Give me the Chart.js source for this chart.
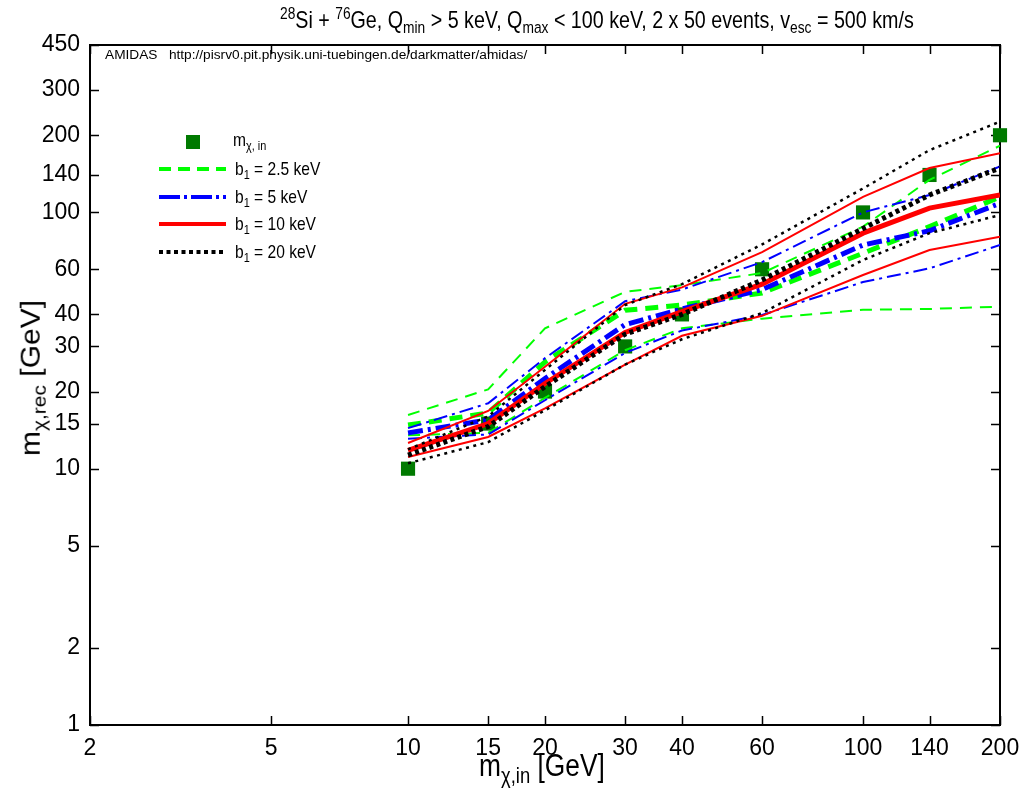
<!DOCTYPE html>
<html>
<head>
<meta charset="utf-8">
<script src="https://cdn.jsdelivr.net/npm/chart.js@4.4.1/dist/chart.umd.min.js"></script>
<style>
  body { margin: 0; background: #fff; }
  #wrap { position: relative; width: 1025px; height: 789px; background: #fff; }
  #c { position: absolute; left: 0; top: 0; }
  .t { position: absolute; white-space: nowrap; color: #000; font-family: "Liberation Sans", Arial, sans-serif; line-height: 1; }
  .t sub, .t sup { font-size: 70%; line-height: 0; }
  .t sub { vertical-align: -0.3em; }
  .t sup { vertical-align: 0.55em; }
  .narrow { transform-origin: 0 0; transform: scaleX(0.82); }
</style>
</head>
<body>
<div id="wrap">
  <canvas id="c" width="1025" height="789"></canvas>

  <div class="t narrow" id="title" style="left:280px; top:8px; font-size:24px;"><sup>28</sup>Si + <sup>76</sup>Ge, Q<sub>min</sub> &gt; 5 keV, Q<sub>max</sub> &lt; 100 keV, 2 x 50 events, v<sub>esc</sub> = 500 km/s</div>

  <div class="t" id="note" style="left:105px; top:48px; font-size:13.7px;">AMIDAS&nbsp;&nbsp;&nbsp;http://pisrv0.pit.physik.uni-tuebingen.de/darkmatter/amidas/</div>

  <div class="t" id="ylab" style="left:31px; top:378px; font-size:30px; transform: translate(-50%, -50%) rotate(-90deg) scaleY(0.9);">m<sub>χ,rec</sub> [GeV]</div>
  <div class="t" id="xlab" style="left:542px; top:750px; font-size:31px; transform: translateX(-50%) scaleX(0.85);">m<sub>χ,in</sub> [GeV]</div>

  <!-- legend -->
  <div style="position:absolute; left:186px; top:135px; width:14px; height:14px; background:#007a00;"></div>
  <svg style="position:absolute; left:155px; top:155px;" width="80" height="110">
    <line x1="4" y1="14" x2="71" y2="14" stroke="#00ff00" stroke-width="4" stroke-dasharray="12 7"/>
    <line x1="4" y1="42" x2="71" y2="42" stroke="#0000ff" stroke-width="4" stroke-dasharray="21 4 3 4"/>
    <line x1="4" y1="69" x2="71" y2="69" stroke="#ff0000" stroke-width="4"/>
    <line x1="4" y1="97" x2="71" y2="97" stroke="#000000" stroke-width="4" stroke-dasharray="4 3.5"/>
  </svg>
  <div class="t narrow" style="left:233px; top:130px; font-size:19px;">m<sub>χ, in</sub></div>
  <div class="t narrow" style="left:235px; top:159px; font-size:19px;">b<sub>1</sub> = 2.5 keV</div>
  <div class="t narrow" style="left:235px; top:187px; font-size:19px;">b<sub>1</sub> = 5 keV</div>
  <div class="t narrow" style="left:235px; top:214px; font-size:19px;">b<sub>1</sub> = 10 keV</div>
  <div class="t narrow" style="left:235px; top:242px; font-size:19px;">b<sub>1</sub> = 20 keV</div>
</div>

<script>
// input WIMP masses (GeV)
var massIn = [10, 15, 20, 30, 40, 60, 100, 140, 200];

// reconstructed masses: upper bound, median, lower bound for each b1
var b25Up  = [16.2, 20.4, 35.3, 49, 52, 58, 88, 134, 182];
var b25Mid = [14.8, 16.5, 26.1, 41.5, 43.5, 48.5, 69.3, 88, 115];
var b25Lo  = [13.5, 13.8, 18.9, 29, 35.3, 38.5, 41.7, 42, 42.9];

var b5Up  = [14.4, 18.0, 27.0, 45, 50, 64, 100, 117, 151];
var b5Mid = [13.8, 15.5, 22.5, 36.5, 42, 50, 74.6, 84.8, 108.5];
var b5Lo  = [13.1, 13.6, 18.5, 28.3, 34.6, 39.8, 53.5, 60.5, 74.6];

var b10Up  = [12.6, 16.8, 25, 44, 51, 70, 115, 149, 170];
var b10Mid = [11.8, 15.0, 21.5, 34, 41, 52.5, 83, 104, 117];
var b10Lo  = [11.1, 13.3, 17.2, 25.5, 33, 39.5, 57, 71.3, 80.4];

var b20Up  = [11.9, 16.0, 24.3, 43.5, 52.5, 75, 124, 175, 226];
var b20Mid = [11.3, 14.6, 20.9, 33.5, 40, 54.5, 86.5, 117, 149];
var b20Lo  = [10.5, 12.7, 16.9, 25.5, 32, 40.5, 65.2, 83, 97.7];

var xTicks = [2, 5, 10, 15, 20, 30, 40, 60, 100, 140, 200];
var yTicks = [1, 2, 5, 10, 15, 20, 30, 40, 60, 100, 140, 200, 300, 450];

var TICK_FONT = { family: "'Liberation Sans', Arial, sans-serif", size: 23 };

function pts(ys) {
    return massIn.map(function (m, i) { return { x: m, y: ys[i] }; });
}

function lineSet(ys, color, width, dash, order) {
    return {
        data: pts(ys),
        borderColor: color,
        backgroundColor: color,
        borderWidth: width,
        borderDash: dash,
        borderCapStyle: 'butt',
        borderJoinStyle: 'miter',
        pointRadius: 0,
        tension: 0,
        fill: false,
        order: order
    };
}

var GREEN = '#00ff00', BLUE = '#0000ff', RED = '#ff0000', BLACK = '#000000';
var datasets = [
    {
        label: 'm_chi,in',
        data: pts(massIn),
        showLine: false,
        pointStyle: 'rect',
        pointRadius: 10,
        pointBorderWidth: 0,
        pointBackgroundColor: '#007a00',
        pointBorderColor: '#007a00',
        clip: false,
        order: 10
    },
    lineSet(b25Up, GREEN, 2, [12, 8], 4),
    lineSet(b25Mid, GREEN, 5, [13, 8], 4),
    lineSet(b25Lo, GREEN, 2, [12, 8], 4),
    lineSet(b5Up, BLUE, 2, [14, 5, 3, 5], 3),
    lineSet(b5Mid, BLUE, 5, [15, 5, 3, 5], 3),
    lineSet(b5Lo, BLUE, 2, [14, 5, 3, 5], 3),
    lineSet(b10Up, RED, 2, [], 2),
    lineSet(b10Mid, RED, 5, [], 2),
    lineSet(b10Lo, RED, 2, [], 2),
    lineSet(b20Up, BLACK, 2.5, [3, 4.5], 1),
    lineSet(b20Mid, BLACK, 5, [4, 3.5], 1),
    lineSet(b20Lo, BLACK, 2.5, [3, 4.5], 1)
];

// gnuplot style frame with inward ticks on all four sides
var framePlugin = {
    id: 'frame',
    beforeDatasetsDraw: function (chart) {
        var ctx = chart.ctx, a = chart.chartArea;
        var sx = chart.scales.x, sy = chart.scales.y;
        ctx.save();
        ctx.strokeStyle = '#000';
        ctx.lineWidth = 1.5;
        ctx.beginPath();
        xTicks.forEach(function (v) {
            var px = Math.round(sx.getPixelForValue(v)) + 0.5;
            ctx.moveTo(px, a.bottom); ctx.lineTo(px, a.bottom - 9);
            ctx.moveTo(px, a.top); ctx.lineTo(px, a.top + 9);
        });
        yTicks.forEach(function (v) {
            var py = Math.round(sy.getPixelForValue(v)) + 0.5;
            ctx.moveTo(a.left, py); ctx.lineTo(a.left + 9, py);
            ctx.moveTo(a.right, py); ctx.lineTo(a.right - 9, py);
        });
        ctx.stroke();
        ctx.lineWidth = 2;
        ctx.strokeRect(a.left, a.top, a.right - a.left, a.bottom - a.top);
        ctx.restore();
    }
};

var ctx = document.getElementById('c').getContext('2d');
var chart = new Chart(ctx, {
    type: 'line',
    data: { datasets: datasets },
    options: {
        responsive: false,
        animation: false,
        devicePixelRatio: 1,
        layout: { padding: { top: 45, right: 25, left: 0, bottom: 0 } },
        plugins: {
            legend: { display: false },
            tooltip: { enabled: false },
            title: { display: false }
        },
        scales: {
            x: {
                type: 'logarithmic',
                min: 2,
                max: 200,
                afterBuildTicks: function (s) { s.ticks = xTicks.map(function (v) { return { value: v }; }); },
                afterFit: function (s) { s.height = 64; s.paddingLeft = 0; s.paddingRight = 0; },
                grid: { display: false, drawTicks: false },
                border: { display: false },
                ticks: {
                    autoSkip: false,
                    maxRotation: 0,
                    padding: 10,
                    color: '#000',
                    font: TICK_FONT,
                    callback: function (v) { return String(v); }
                }
            },
            y: {
                type: 'logarithmic',
                min: 1,
                max: 450,
                afterBuildTicks: function (s) { s.ticks = yTicks.map(function (v) { return { value: v }; }); },
                afterFit: function (s) { s.width = 90; s.paddingTop = 0; s.paddingBottom = 0; },
                grid: { display: false, drawTicks: false },
                border: { display: false },
                ticks: {
                    autoSkip: false,
                    padding: 10,
                    color: '#000',
                    font: TICK_FONT,
                    callback: function (v) { return String(v); }
                }
            }
        }
    },
    plugins: [framePlugin]
});
</script>
</body>
</html>
